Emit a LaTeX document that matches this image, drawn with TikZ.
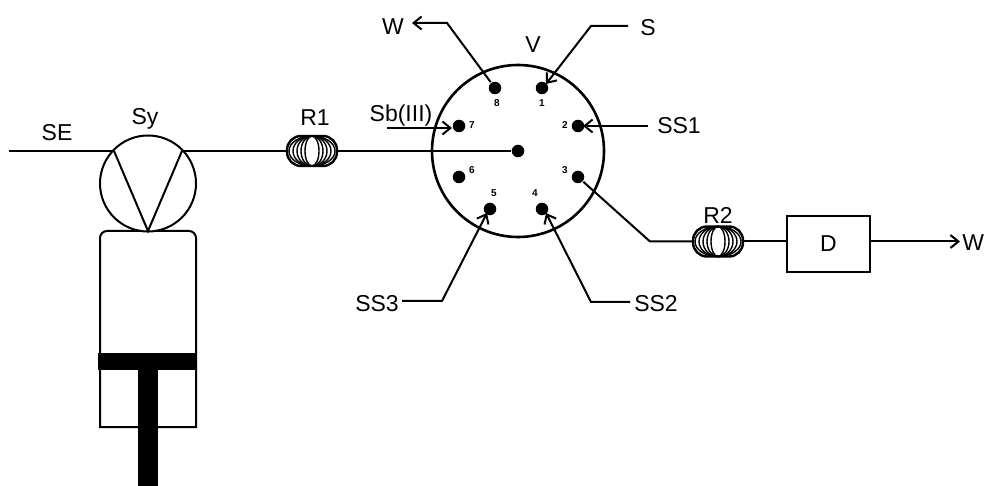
\documentclass[tikz,border=0pt]{standalone}
\usepackage{fontspec}
\setmainfont{Liberation Sans}
\usetikzlibrary{arrows.meta, positioning, calc, shapes.geometric}
\begin{document}
\begin{tikzpicture}[
  x=1pt, y=-1pt,
  font=\fontsize{23}{26}\selectfont,
  line width=2pt,
  lbl/.style    ={inner sep=0pt},
  num/.style    ={inner sep=0pt, font=\fontsize{10}{12}\selectfont\bfseries},
  port/.style   ={circle, fill=black, inner sep=0pt, minimum size=12.5pt},
  flow/.style   ={-{Straight Barb[length=8pt, width=13pt, line width=2pt]}, line width=2pt},
  wall/.style   ={draw=black, line width=2.6pt},
  turn/.style   ={ellipse, draw=black, line width=1.4pt, inner sep=0pt, minimum height=30pt},
  coilbox/.style={draw=black, line width=2.4pt, rounded corners=14pt, inner sep=0pt,
                  minimum width=50pt, minimum height=30pt},
]
\useasboundingbox (0,0) rectangle (985,486);

% ----- Syringe pump -----
\draw (100,427) -- (100,243) [rounded corners=7pt] -- (100,231) -- (196,231) [sharp corners] -- (196,427) -- cycle;
\node[circle, draw=black, fill=white, line width=2pt, inner sep=0pt, minimum size=96pt] (PUMP) at (148,183.5) {};
\coordinate (PUMPL) at (114,151);
\coordinate (PUMPR) at (182,151);
\coordinate (PUMPB) at (148,231);
\draw (PUMPL) -- (PUMPB) -- (PUMPR);
\fill (98,353) rectangle (196,370);
\fill (138,370) rectangle (158,486);

% ----- Coils -----
\node[coilbox] (R1) at (312,151) {};
\node[coilbox] (R2) at (718,241.5) {};
\foreach \coil in {R1, R2} {
  \foreach \wd in {14,22,30,38,46} {
    \node[turn, minimum width=\wd pt] at (\coil) {};
  }
}

% ----- Valve -----
\node[circle, wall, inner sep=0pt, minimum size=172pt] (VALVE) at (518,151) {};
\node[port] (P0) at (518,151) {};
\node[port] (P1) at (542,88) {};
\node[port] (P2) at (578,126) {};
\node[port] (P3) at (578,177) {};
\node[port] (P4) at (542,209) {};
\node[port] (P5) at (490,209) {};
\node[port] (P6) at (459,177) {};
\node[port] (P7) at (459,126) {};
\node[port] (P8) at (495,88) {};
\node[num] at (542,103) {1};
\node[num] at (565,125) {2};
\node[num] at (565,170) {3};
\node[num] at (535,193) {4};
\node[num] at (494,193) {5};
\node[num] at (472,170) {6};
\node[num] at (472,125) {7};
\node[num] at (497,103) {8};

% ----- Detector -----
\node[draw=black, line width=2.5pt, inner sep=0pt, minimum width=83pt, minimum height=56pt] (DET) at (828.5,244) {D};

% ----- Labels -----
\node[lbl] (SE)   at (57,133) {SE};
\node[lbl] (SY)   at (145,119) {Sy};
\node[lbl] at (315,118) {R1};
\node[lbl] at (718,215) {R2};
\node[lbl] at (533,45) {V};
\node[lbl] (WA)   at (393,27) {W};
\node[lbl] (S)    at (648,28) {S};
\node[lbl] (SB)   at (401,116) {Sb(III)};
\node[lbl] (SSA)  at (679,126) {SS1};
\node[lbl] (SSB)  at (656,304) {SS2};
\node[lbl] (SSC)  at (377,304) {SS3};
\node[lbl, anchor=east] (WB) at (985,243) {W};

% ----- Tubing -----
\coordinate (SEIN) at (9,151);
\coordinate (BENDW) at (447,23);
\coordinate (ENDW) at (412,23);
\coordinate (BEGS) at (628,26);
\coordinate (BENDS) at (591,26);
\coordinate (BEGB) at (387,128);
\coordinate (ENDB) at (452,128);
\coordinate (BEGA) at (648,126);
\coordinate (BEGC) at (402,301);
\coordinate (BENDC) at (442,301);
\coordinate (BEGD) at (630,302);
\coordinate (BENDD) at (591,302);
\coordinate (BENDR) at (650,241.5);
\coordinate (ENDDET) at (960,241.5);

\draw (SEIN) -- (PUMPL);
\draw (PUMPR) -- (R1.west);
\draw (R1.east) -- (P0);
\draw (P3) -- (BENDR) -- (R2.west);
\draw (R2.east) -- (DET.west |- R2);
\draw[flow] (DET.east |- R2) -- (ENDDET);
\draw[flow] (P8) -- (BENDW) -- (ENDW);
\draw[flow] (BEGS) -- (BENDS) -- (546,84);
\draw[flow] (BEGB) -- (ENDB);
\draw[flow] (BEGA) -- (583,126);
\draw[flow] (BEGC) -- (BENDC) -- (487,213);
\draw[flow] (BEGD) -- (BENDD) -- (546,213);

\end{tikzpicture}
\end{document}
